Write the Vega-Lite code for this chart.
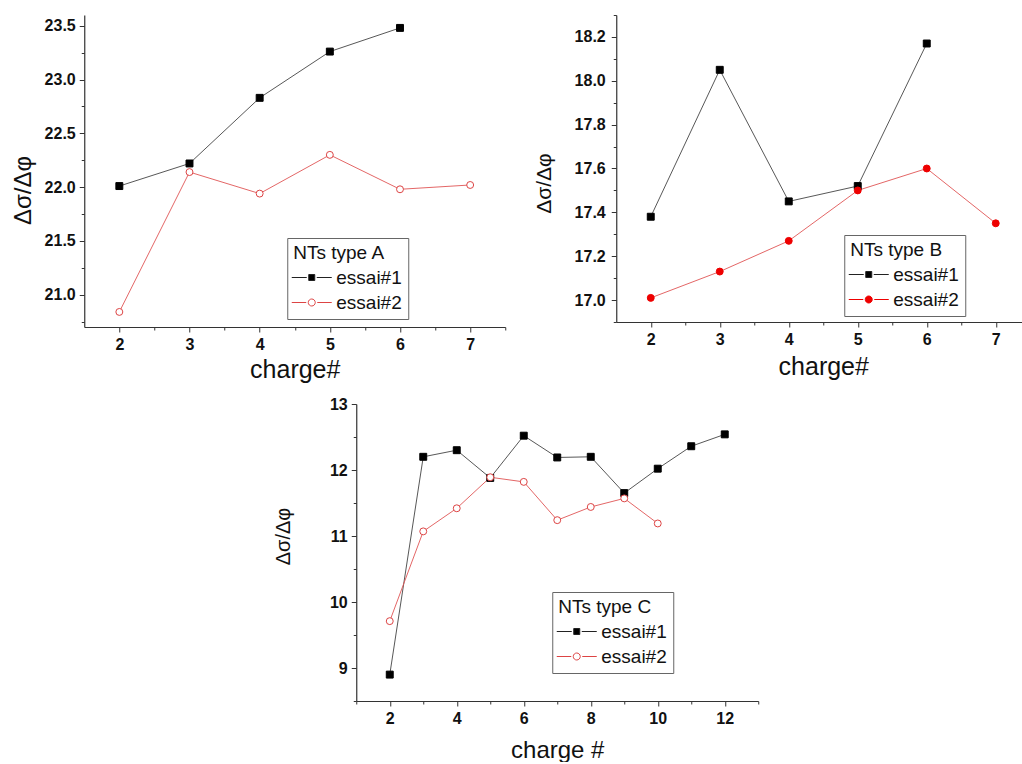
{
  "$schema": "https://vega.github.io/schema/vega-lite/v6.json",
  "padding": {"left": 11, "top": 7, "right": 0, "bottom": 0},
  "background": "white",
  "center": true,
  "spacing": 14,
  "datasets": {
    "A": [
      {"charge": 2, "value": 22.01, "series": "essai#1"},
      {"charge": 3, "value": 22.22, "series": "essai#1"},
      {"charge": 4, "value": 22.83, "series": "essai#1"},
      {"charge": 5, "value": 23.26, "series": "essai#1"},
      {"charge": 6, "value": 23.48, "series": "essai#1"},
      {"charge": 2, "value": 20.84, "series": "essai#2"},
      {"charge": 3, "value": 22.14, "series": "essai#2"},
      {"charge": 4, "value": 21.94, "series": "essai#2"},
      {"charge": 5, "value": 22.30, "series": "essai#2"},
      {"charge": 6, "value": 21.98, "series": "essai#2"},
      {"charge": 7, "value": 22.02, "series": "essai#2"}
    ],
    "B": [
      {"charge": 2, "value": 17.38, "series": "essai#1"},
      {"charge": 3, "value": 18.05, "series": "essai#1"},
      {"charge": 4, "value": 17.45, "series": "essai#1"},
      {"charge": 5, "value": 17.52, "series": "essai#1"},
      {"charge": 6, "value": 18.17, "series": "essai#1"},
      {"charge": 2, "value": 17.01, "series": "essai#2"},
      {"charge": 3, "value": 17.13, "series": "essai#2"},
      {"charge": 4, "value": 17.27, "series": "essai#2"},
      {"charge": 5, "value": 17.50, "series": "essai#2"},
      {"charge": 6, "value": 17.60, "series": "essai#2"},
      {"charge": 7, "value": 17.35, "series": "essai#2"}
    ],
    "C": [
      {"charge": 2, "value": 8.90, "series": "essai#1"},
      {"charge": 3, "value": 12.20, "series": "essai#1"},
      {"charge": 4, "value": 12.30, "series": "essai#1"},
      {"charge": 5, "value": 11.88, "series": "essai#1"},
      {"charge": 6, "value": 12.52, "series": "essai#1"},
      {"charge": 7, "value": 12.19, "series": "essai#1"},
      {"charge": 8, "value": 12.20, "series": "essai#1"},
      {"charge": 9, "value": 11.65, "series": "essai#1"},
      {"charge": 10, "value": 12.02, "series": "essai#1"},
      {"charge": 11, "value": 12.36, "series": "essai#1"},
      {"charge": 12, "value": 12.54, "series": "essai#1"},
      {"charge": 2, "value": 9.71, "series": "essai#2"},
      {"charge": 3, "value": 11.07, "series": "essai#2"},
      {"charge": 4, "value": 11.42, "series": "essai#2"},
      {"charge": 5, "value": 11.89, "series": "essai#2"},
      {"charge": 6, "value": 11.82, "series": "essai#2"},
      {"charge": 7, "value": 11.24, "series": "essai#2"},
      {"charge": 8, "value": 11.44, "series": "essai#2"},
      {"charge": 9, "value": 11.57, "series": "essai#2"},
      {"charge": 10, "value": 11.19, "series": "essai#2"}
    ]
  },
  "vconcat": [
    {
      "hconcat": [
        {
          "width": 421,
          "height": 312,
          "data": {"name": "A"},
          "encoding": {
            "x": {"field": "charge", "type": "quantitative", "scale": {"domain": [1.5, 7.5], "nice": false, "zero": false},
              "axis": {"title": "charge#", "titleFontSize": 25, "titlePadding": 5,
                "values": [2, 2.5, 3, 3.5, 4, 4.5, 5, 5.5, 6, 6.5, 7, 7.5],
                "labelExpr": "datum.value % 1 == 0 ? format(datum.value, 'd') : ''",
                "tickSize": {"condition": {"test": "datum.value % 1 == 0", "value": 5}, "value": 3}}},
            "y": {"field": "value", "type": "quantitative", "scale": {"domain": [20.7, 23.6], "nice": false, "zero": false},
              "axis": {"title": "Δσ/Δφ", "titleFontSize": 24, "titlePadding": 9, "titleY": 175,
                "values": [20.75, 21, 21.25, 21.5, 21.75, 22, 22.25, 22.5, 22.75, 23, 23.25, 23.5],
                "labelExpr": "datum.value % 0.5 == 0 ? format(datum.value, '.1f') : ''",
                "tickSize": {"condition": {"test": "datum.value % 0.5 == 0", "value": 5}, "value": 3}}}
          },
          "layer": [
            {"mark": {"type": "line", "strokeWidth": 0.9},
              "encoding": {"color": {"field": "series", "type": "nominal", "scale": {"domain": ["essai#1", "essai#2"], "range": ["#444444", "#e05555"]}, "legend": null}}},
            {"mark": {"type": "point", "size": 48, "strokeWidth": 1, "opacity": 1},
              "encoding": {
                "shape": {"field": "series", "type": "nominal", "scale": {"domain": ["essai#1", "essai#2"], "range": ["square", "circle"]}, "legend": null},
                "stroke": {"field": "series", "type": "nominal", "scale": {"domain": ["essai#1", "essai#2"], "range": ["#000000", "#dd4444"]}, "legend": null},
                "fill": {"field": "series", "type": "nominal", "scale": {"domain": ["essai#1", "essai#2"], "range": ["#000000", "#ffffff"]}, "legend": null}
              }},
            {"mark": {"type": "point", "opacity": 0, "strokeWidth": 1},
              "encoding": {
                "shape": {"field": "series", "type": "nominal", "scale": {"domain": ["essai#1", "essai#2"], "range": ["M-4,0H-1M1,0H4M-0.6,-0.6H0.6V0.6H-0.6Z", "M-4,0H-1.1M1.1,0H4M0.7,0A0.7,0.7,0,1,1,-0.7,0A0.7,0.7,0,1,1,0.7,0Z"]},
                  "legend": {"title": "NTs type A", "orient": "none", "legendX": 203, "legendY": 223}},
                "stroke": {"field": "series", "type": "nominal", "scale": {"domain": ["essai#1", "essai#2"], "range": ["#222222", "#dd4444"]},
                  "legend": {"title": "NTs type A", "orient": "none", "legendX": 203, "legendY": 223}},
                "fill": {"field": "series", "type": "nominal", "scale": {"domain": ["essai#1", "essai#2"], "range": ["#000000", "#ffffff"]},
                  "legend": {"title": "NTs type A", "orient": "none", "legendX": 203, "legendY": 223}}
              }}
          ],
          "resolve": {"scale": {"shape": "independent", "stroke": "independent", "fill": "independent", "color": "independent"}}
        },
        {
          "width": 414,
          "height": 307,
          "data": {"name": "B"},
          "encoding": {
            "x": {"field": "charge", "type": "quantitative", "scale": {"domain": [1.5, 7.5], "nice": false, "zero": false},
              "axis": {"title": "charge#", "titleFontSize": 25, "titlePadding": 7,
                "values": [2, 2.5, 3, 3.5, 4, 4.5, 5, 5.5, 6, 6.5, 7, 7.5],
                "labelExpr": "datum.value % 1 == 0 ? format(datum.value, 'd') : ''",
                "tickSize": {"condition": {"test": "datum.value % 1 == 0", "value": 5}, "value": 3}}},
            "y": {"field": "value", "type": "quantitative", "scale": {"domain": [16.9, 18.3], "nice": false, "zero": false},
              "axis": {"title": "Δσ/Δφ", "titleFontSize": 21, "titlePadding": 20, "titleY": 168, "labelPadding": 6,
                "values": [16.9, 17, 17.1, 17.2, 17.3, 17.4, 17.5, 17.6, 17.7, 17.8, 17.9, 18, 18.1, 18.2, 18.3],
                "labelExpr": "round(datum.value * 10) % 2 == 0 ? format(datum.value, '.1f') : ''",
                "tickSize": {"condition": {"test": "round(datum.value * 10) % 2 == 0", "value": 5}, "value": 3}}}
          },
          "layer": [
            {"mark": {"type": "line", "strokeWidth": 0.9},
              "encoding": {"color": {"field": "series", "type": "nominal", "scale": {"domain": ["essai#1", "essai#2"], "range": ["#444444", "#e05555"]}, "legend": null}}},
            {"mark": {"type": "point", "size": 48, "strokeWidth": 1, "opacity": 1},
              "encoding": {
                "shape": {"field": "series", "type": "nominal", "scale": {"domain": ["essai#1", "essai#2"], "range": ["square", "circle"]}, "legend": null},
                "stroke": {"field": "series", "type": "nominal", "scale": {"domain": ["essai#1", "essai#2"], "range": ["#000000", "#ee0000"]}, "legend": null},
                "fill": {"field": "series", "type": "nominal", "scale": {"domain": ["essai#1", "essai#2"], "range": ["#000000", "#ee0000"]}, "legend": null}
              }},
            {"mark": {"type": "point", "opacity": 0, "strokeWidth": 1},
              "encoding": {
                "shape": {"field": "series", "type": "nominal", "scale": {"domain": ["essai#1", "essai#2"], "range": ["M-4,0H-1M1,0H4M-0.6,-0.6H0.6V0.6H-0.6Z", "M-4,0H-1.1M1.1,0H4M0.7,0A0.7,0.7,0,1,1,-0.7,0A0.7,0.7,0,1,1,0.7,0Z"]},
                  "legend": {"title": "NTs type B", "orient": "none", "legendX": 228, "legendY": 220}},
                "stroke": {"field": "series", "type": "nominal", "scale": {"domain": ["essai#1", "essai#2"], "range": ["#222222", "#ee0000"]},
                  "legend": {"title": "NTs type B", "orient": "none", "legendX": 228, "legendY": 220}},
                "fill": {"field": "series", "type": "nominal", "scale": {"domain": ["essai#1", "essai#2"], "range": ["#000000", "#ee0000"]},
                  "legend": {"title": "NTs type B", "orient": "none", "legendX": 228, "legendY": 220}}
              }}
          ],
          "resolve": {"scale": {"shape": "independent", "stroke": "independent", "fill": "independent", "color": "independent"}}
        }
      ],
      "spacing": 26
    },
    {
      "width": 402,
      "height": 297,
      "data": {"name": "C"},
      "encoding": {
        "x": {"field": "charge", "type": "quantitative", "scale": {"domain": [1, 13], "nice": false, "zero": false},
          "axis": {"title": "charge #", "titleFontSize": 24, "titlePadding": 12,
            "values": [1, 2, 3, 4, 5, 6, 7, 8, 9, 10, 11, 12, 13],
            "labelExpr": "datum.value % 2 == 0 && datum.value < 13 ? format(datum.value, 'd') : ''",
            "tickSize": {"condition": {"test": "datum.value % 2 == 0", "value": 5}, "value": 3}}},
        "y": {"field": "value", "type": "quantitative", "scale": {"domain": [8.5, 13], "nice": false, "zero": false},
          "axis": {"title": "Δσ/Δφ", "titleFontSize": 20, "titlePadding": 36, "titleY": 132,
            "values": [8.5, 9, 9.5, 10, 10.5, 11, 11.5, 12, 12.5, 13],
            "labelExpr": "datum.value % 1 == 0 ? format(datum.value, 'd') : ''",
            "tickSize": {"condition": {"test": "datum.value % 1 == 0", "value": 5}, "value": 3}}}
      },
      "layer": [
        {"mark": {"type": "line", "strokeWidth": 0.9},
          "encoding": {"color": {"field": "series", "type": "nominal", "scale": {"domain": ["essai#1", "essai#2"], "range": ["#444444", "#e05555"]}, "legend": null}}},
        {"mark": {"type": "point", "size": 48, "strokeWidth": 1, "opacity": 1},
          "encoding": {
            "shape": {"field": "series", "type": "nominal", "scale": {"domain": ["essai#1", "essai#2"], "range": ["square", "circle"]}, "legend": null},
            "stroke": {"field": "series", "type": "nominal", "scale": {"domain": ["essai#1", "essai#2"], "range": ["#000000", "#dd4444"]}, "legend": null},
            "fill": {"field": "series", "type": "nominal", "scale": {"domain": ["essai#1", "essai#2"], "range": ["#000000", "#ffffff"]}, "legend": null}
          }},
        {"mark": {"type": "point", "opacity": 0, "strokeWidth": 1},
          "encoding": {
            "shape": {"field": "series", "type": "nominal", "scale": {"domain": ["essai#1", "essai#2"], "range": ["M-4,0H-1M1,0H4M-0.6,-0.6H0.6V0.6H-0.6Z", "M-4,0H-1.1M1.1,0H4M0.7,0A0.7,0.7,0,1,1,-0.7,0A0.7,0.7,0,1,1,0.7,0Z"]},
              "legend": {"title": "NTs type C", "orient": "none", "legendX": 196, "legendY": 188}},
            "stroke": {"field": "series", "type": "nominal", "scale": {"domain": ["essai#1", "essai#2"], "range": ["#222222", "#dd4444"]},
              "legend": {"title": "NTs type C", "orient": "none", "legendX": 196, "legendY": 188}},
            "fill": {"field": "series", "type": "nominal", "scale": {"domain": ["essai#1", "essai#2"], "range": ["#000000", "#ffffff"]},
              "legend": {"title": "NTs type C", "orient": "none", "legendX": 196, "legendY": 188}}
          }}
      ],
      "resolve": {"scale": {"shape": "independent", "stroke": "independent", "fill": "independent", "color": "independent"}}
    }
  ],
  "config": {
    "font": "Liberation Sans",
    "view": {"stroke": null},
    "axis": {
      "grid": false,
      "domainColor": "#333333",
      "domainWidth": 1.2,
      "tickColor": "#333333",
      "tickWidth": 1,
      "labelFont": "Liberation Sans",
      "labelFontSize": 16,
      "labelFontWeight": "bold",
      "labelColor": "#111111",
      "labelPadding": 4,
      "labelOverlap": false,
      "labelFlush": false,
      "titleFont": "Liberation Sans",
      "titleFontWeight": "normal",
      "titleColor": "#111111"
    },
    "legend": {
      "titleFont": "Liberation Sans",
      "titleFontSize": 19,
      "titleFontWeight": "normal",
      "titleColor": "#111111",
      "labelFont": "Liberation Sans",
      "labelFontSize": 19,
      "labelColor": "#111111",
      "strokeColor": "#666666",
      "fillColor": "white",
      "padding": 6,
      "symbolSize": 100,
      "symbolOpacity": 1,
      "symbolStrokeWidth": 1,
      "symbolOffset": 9,
      "labelOffset": 15,
      "titlePadding": 5,
      "rowPadding": 5
    }
  }
}
